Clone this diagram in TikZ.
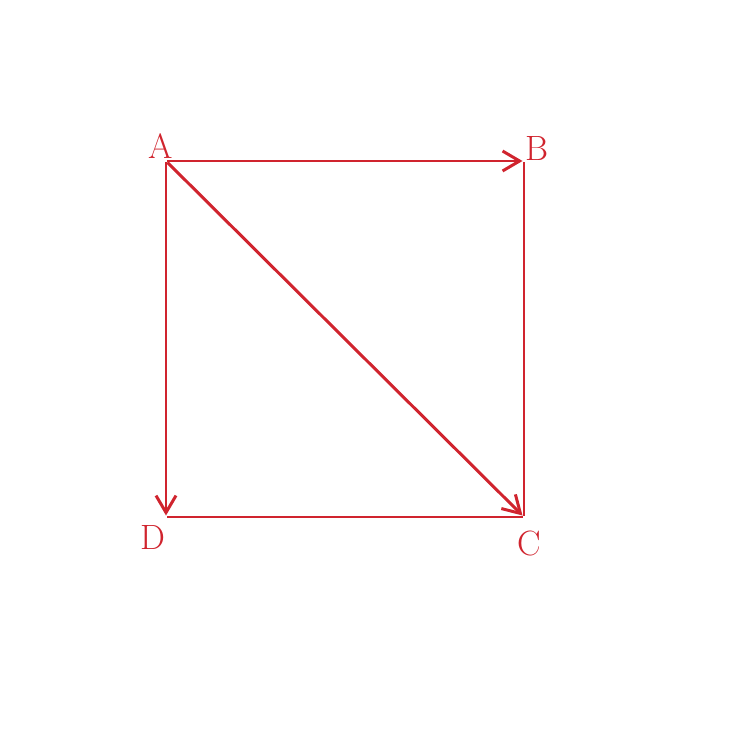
\documentclass[tikz,border=0pt]{standalone}
\usepackage{tikz}
\usetikzlibrary{arrows.meta, positioning}
\usepackage{xcolor}
\definecolor{penred}{RGB}{208,36,46}

\begin{document}
\begin{tikzpicture}[line width=1.7pt,draw=penred,>={Straight Barb[length=3.4mm,width=4mm]}]
  \tikzstyle{corner}=[inner sep=0pt,minimum size=0pt]
  \tikzstyle{tag}=[text=penred,font=\fontsize{20}{24}\selectfont]
  \useasboundingbox (0,0) rectangle (15,15);

  \node[corner] (A) at (3.32,11.78) {};
  \node[corner] (B) at (10.48,11.78) {};
  \node[corner] (C) at (10.48,4.66) {};
  \node[corner] (D) at (3.32,4.66) {};

  \node[tag] (lA) at (3.22,12.08) {A};
  \node[tag] (lB) at (10.74,12.02) {B};
  \node[tag] (lC) at (10.58,4.14) {C};
  \node[tag] (lD) at (3.06,4.26) {D};

  \path[->,draw=penred]
  (A) edge (B)
  (A) edge (D)
  (A) edge (C)
  ;
  \draw[penred] (B) -- (C) -- (D);
\end{tikzpicture}
\end{document}
